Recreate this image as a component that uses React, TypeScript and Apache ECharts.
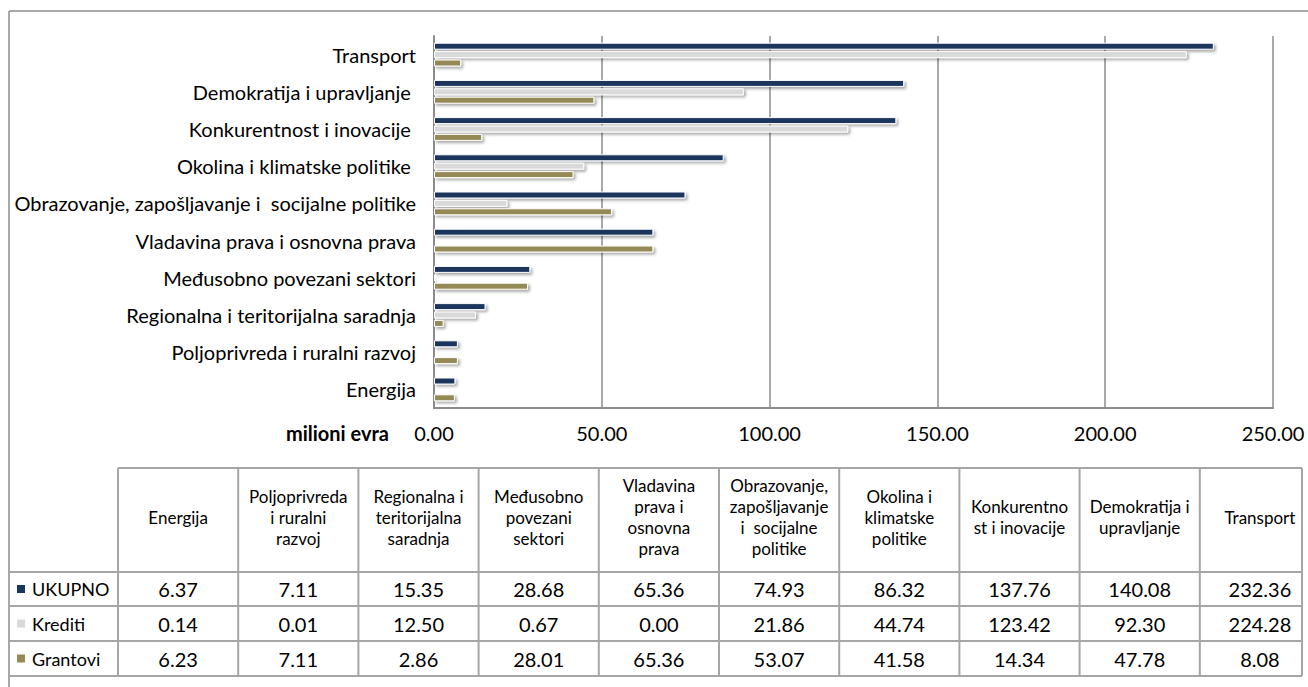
import React, { useEffect, useRef } from "react";
import * as echarts from "echarts";

const categories = [
  "Energija",
  "Poljoprivreda i ruralni razvoj",
  "Regionalna i teritorijalna saradnja",
  "Međusobno povezani sektori",
  "Vladavina prava i osnovna prava",
  "Obrazovanje, zapošljavanje i  socijalne politike",
  "Okolina i klimatske politike ",
  "Konkurentnost i inovacije ",
  "Demokratija i upravljanje ",
  "Transport",
];
const tableHeaders = [
  "Energija",
  "Poljoprivreda\ni ruralni\nrazvoj",
  "Regionalna i\nteritorijalna\nsaradnja",
  "Međusobno\npovezani\nsektori",
  "Vladavina\nprava i\nosnovna\nprava",
  "Obrazovanje,\nzapošljavanje\ni  socijalne\npolitike",
  "Okolina i\nklimatske\npolitike",
  "Konkurentno\nst i inovacije",
  "Demokratija i\nupravljanje",
  "Transport",
];
const seriesNames = ["UKUPNO", "Krediti", "Grantovi"];
const ukupno = [6.37, 7.11, 15.35, 28.68, 65.36, 74.93, 86.32, 137.76, 140.08, 232.36];
const krediti = [0.14, 0.01, 12.5, 0.67, 0.0, 21.86, 44.74, 123.42, 92.3, 224.28];
const grantovi = [6.23, 7.11, 2.86, 28.01, 65.36, 53.07, 41.58, 14.34, 47.78, 8.08];
const axisMin = 0;
const axisMax = 250;
const axisInterval = 50;
const axisName = "milioni evra";

const colors = ["#1b365d", "#d9d9d9", "#948a54"];
const FONT = "Lato, 'Open Sans', sans-serif";
const FS = 20;

export default function App() {
  const ref = useRef<HTMLDivElement>(null);
  useEffect(() => {
    document.body.style.margin = "0";
    const chart = echarts.init(ref.current!, null, { renderer: "svg" });
    const allSeries = [ukupno, krediti, grantovi];

    const lineColor = "#a6a6a6";
    const g: any[] = [];
    // outer border
    g.push({ type: "line", shape: { x1: 9, y1: 11, x2: 1308, y2: 11 }, style: { stroke: "#8c8c8c", lineWidth: 1.5 } });
    g.push({ type: "line", shape: { x1: 9, y1: 11, x2: 9, y2: 687 }, style: { stroke: "#8c8c8c", lineWidth: 1.5 } });
    // axis name
    g.push({
      type: "text",
      x: 389,
      y: 433,
      style: { text: axisName, font: `bold ${FS}px ${FONT}`, fill: "#000", align: "right", verticalAlign: "middle" },
    });
    // table
    const colX0 = 118;
    const colW = 120.2;
    const tableRight = 1302;
    const headTop = 468;
    const rowYs = [572, 606, 641, 676];
    g.push({ type: "line", shape: { x1: colX0, y1: headTop, x2: tableRight, y2: headTop }, style: { stroke: lineColor, lineWidth: 2 } });
    rowYs.forEach((y) => {
      g.push({ type: "line", shape: { x1: 9, y1: y, x2: tableRight, y2: y }, style: { stroke: lineColor, lineWidth: 2 } });
    });
    for (let k = 0; k <= categories.length; k++) {
      const x = k === categories.length ? tableRight : colX0 + k * colW;
      g.push({ type: "line", shape: { x1: x, y1: headTop, x2: x, y2: rowYs[3] }, style: { stroke: lineColor, lineWidth: 2 } });
    }
    tableHeaders.forEach((h, k) => {
      g.push({
        type: "text",
        x: colX0 + k * colW + colW / 2,
        y: 517,
        style: { text: h, font: `17px ${FONT}`, fill: "#000", align: "center", verticalAlign: "middle", lineHeight: 21 },
      });
    });
    seriesNames.forEach((n, r) => {
      const cy = (rowYs[r] + rowYs[r + 1]) / 2;
      g.push({ type: "rect", shape: { x: 17, y: cy - 4, width: 8, height: 8 }, style: { fill: colors[r] } });
      g.push({
        type: "text",
        x: 32,
        y: cy,
        style: { text: n, font: `18px ${FONT}`, fill: "#000", align: "left", verticalAlign: "middle" },
      });
      allSeries[r].forEach((v, k) => {
        g.push({
          type: "text",
          x: colX0 + k * colW + colW / 2,
          y: cy,
          style: { text: v.toFixed(2), font: `${FS}px ${FONT}`, fill: "#000", align: "center", verticalAlign: "middle" },
        });
      });
    });

    chart.setOption({
      animation: false,
      backgroundColor: "#fff",
      textStyle: { fontFamily: FONT },
      grid: { left: 434, right: 35, top: 36, bottom: 279, containLabel: false },
      xAxis: {
        type: "value",
        min: axisMin,
        max: axisMax,
        interval: axisInterval,
        axisLabel: { formatter: (v: number) => v.toFixed(2), color: "#000", fontSize: FS, margin: 15, fontFamily: FONT },
        axisLine: { show: true, lineStyle: { color: "#8c8c8c", width: 2 } },
        axisTick: { show: false },
        splitLine: { show: true, lineStyle: { color: "#8c8c8c", width: 1.5 } },
      },
      yAxis: {
        type: "category",
        data: categories,
        axisLabel: { color: "#000", fontSize: FS, margin: 18, fontFamily: FONT },
        axisLine: { show: true, lineStyle: { color: "#8c8c8c", width: 2 } },
        axisTick: { show: false },
      },
      series: seriesNames.map((n, i) => ({
        name: n,
        type: "bar",
        data: allSeries[i],
        barWidth: 7,
        barGap: "20%",
        itemStyle: {
          color: colors[i],
          borderColor: "#fff",
          borderWidth: 1,
          shadowBlur: 3,
          shadowColor: "rgba(0,0,0,0.35)",
          shadowOffsetX: 2,
          shadowOffsetY: 2,
        },
      })),
      graphic: g,
    });
    return () => chart.dispose();
  }, []);
  return <div ref={ref} style={{ width: 1308, height: 687, position: "absolute", left: 0, top: 0 }} />;
}
